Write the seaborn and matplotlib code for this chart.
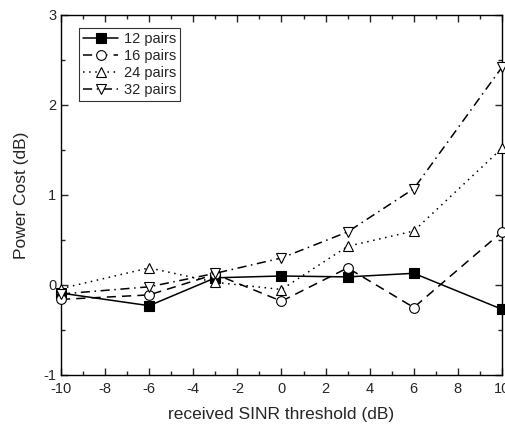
import matplotlib
matplotlib.use("Agg")
import matplotlib.pyplot as plt
import seaborn as sns
import pandas as pd
from matplotlib.ticker import MultipleLocator

x_vals = [-10, -6, -3, 0, 3, 6, 10]
pairs_12 = [-0.09, -0.23, 0.08, 0.10, 0.09, 0.13, -0.27]
pairs_16 = [-0.16, -0.11, 0.12, -0.18, 0.19, -0.25, 0.59]
pairs_24 = [-0.04, 0.19, 0.03, -0.05, 0.43, 0.60, 1.52]
pairs_32 = [-0.10, -0.02, 0.13, 0.30, 0.59, 1.07, 2.42]
series_names = ["12 pairs", "16 pairs", "24 pairs", "32 pairs"]

rows = []
for name, ys in zip(series_names, [pairs_12, pairs_16, pairs_24, pairs_32]):
    for xv, yv in zip(x_vals, ys):
        rows.append({"x": xv, "y": yv, "series": name})
df = pd.DataFrame(rows)

sns.set_style("ticks")
plt.rcParams['font.family'] = ['Liberation Sans', 'DejaVu Sans']
plt.rcParams['axes.unicode_minus'] = False

fig = plt.figure(figsize=(5.06, 4.29), dpi=100)
ax = fig.add_axes([61/506, 54/429, 441/506, 360/429])

styles = {
    "12 pairs": dict(ls='-', marker='s', mfc='black'),
    "16 pairs": dict(ls=(0, (6, 4)), marker='o', mfc='white'),
    "24 pairs": dict(ls=(0, (1, 3)), marker='^', mfc='white'),
    "32 pairs": dict(ls=(0, (6, 3, 1, 3)), marker='v', mfc='white'),
}
for name in series_names:
    st = styles[name]
    sub = df[df.series == name]
    sns.lineplot(data=sub, x="x", y="y", ax=ax, color='black', lw=1.1,
                 linestyle=st['ls'], marker=st['marker'], markersize=7,
                 markerfacecolor=st['mfc'], markeredgecolor='black',
                 markeredgewidth=0.8, label=name, clip_on=False, zorder=3)

ax.set_xlim(-10, 10)
ax.set_ylim(-1, 3)
ax.xaxis.set_major_locator(MultipleLocator(2))
ax.xaxis.set_minor_locator(MultipleLocator(1))
ax.yaxis.set_major_locator(MultipleLocator(1))
ax.yaxis.set_minor_locator(MultipleLocator(0.5))
ax.tick_params(which='both', direction='in', top=True, right=True, width=1, labelsize=10.5)
ax.tick_params(which='major', length=5)
ax.tick_params(which='minor', length=3)
ax.tick_params(axis='x', pad=5)
for s in ax.spines.values():
    s.set_linewidth(1.0)
    s.set_color('black')

ax.set_xlabel("received SINR threshold (dB)", fontsize=12.5, labelpad=8)
ax.set_ylabel("Power Cost (dB)", fontsize=12.5, labelpad=10)

leg = ax.legend(loc='upper left', bbox_to_anchor=(0.04, 0.965), fontsize=10.5,
                frameon=True, fancybox=False, edgecolor='black', handlelength=2.4,
                borderpad=0.3, labelspacing=0.2, handletextpad=0.4, borderaxespad=0)
leg.get_frame().set_linewidth(0.8)

fig.savefig("out.png", dpi=100)
